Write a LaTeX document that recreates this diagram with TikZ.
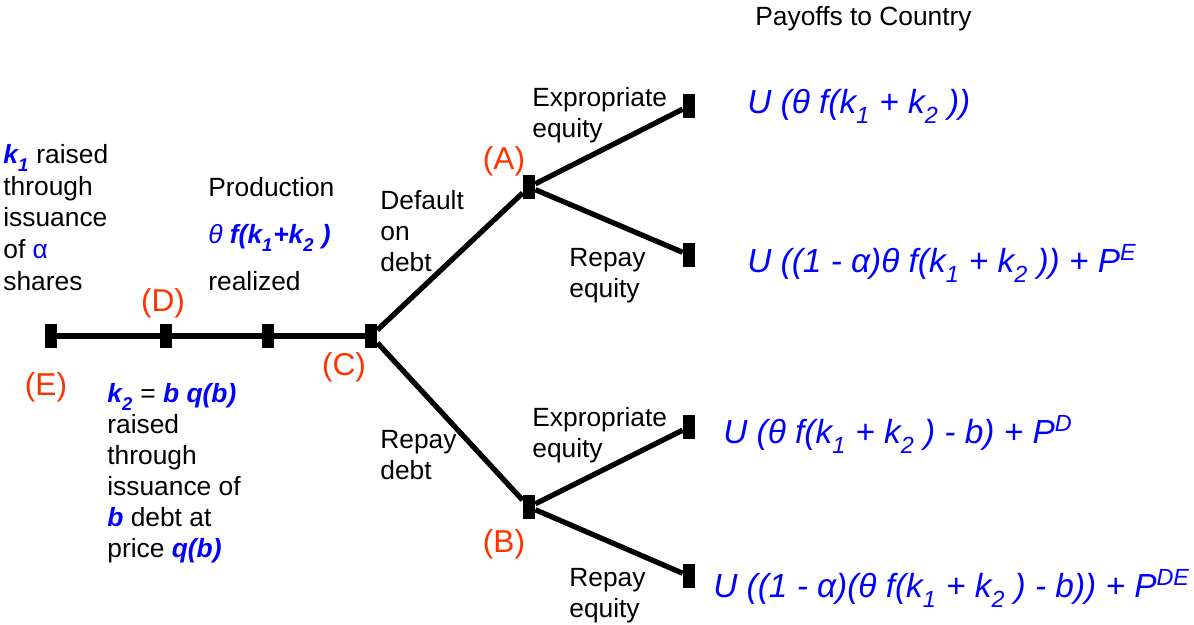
\documentclass[tikz,border=0pt]{standalone}
\usepackage{fontspec}
\setmainfont{Liberation Sans}
\definecolor{payblue}{RGB}{0,0,255}
\definecolor{stagered}{RGB}{255,51,0}
\tikzset{
  snode/.style={rectangle, fill=black, inner sep=0pt,
                minimum width=0.24cm, minimum height=0.47cm},
  sbranch/.style={draw=black, line width=3pt},
  sstage/.style={text=stagered, font=\fontsize{18}{21}\selectfont,
                 anchor=base, inner sep=0pt},
  % multi-line: base anchor sits on the last line
  stext/.style={font=\fontsize{15}{17.6}\selectfont, align=left,
                anchor=base west, inner sep=0pt},
  spay/.style={text=payblue, font=\fontsize{19}{22}\selectfont\itshape,
               anchor=base west, inner sep=0pt},
}
\newcommand{\bk}[1]{\textcolor{payblue}{\textbf{\textit{#1}}}}
\newcommand{\lo}[1]{\raisebox{-0.15em}{\textsubscript{#1}}}

\begin{document}
\begin{tikzpicture}[x=0.02cm,y=-0.02cm]
\useasboundingbox (0,0) rectangle (1194,625);
% decision points
\node[snode] (E) at (51,336) {};
\node[snode] (D) at (166,336) {};
\node[snode] (R) at (268,336) {};
\node[snode] (C) at (371,336) {};
\node[snode] (A) at (529,187) {};
\node[snode] (B) at (529,507) {};
\node[snode] (AE) at (689,106) {};
\node[snode] (AR) at (689,255) {};
\node[snode] (BE) at (689,427) {};
\node[snode] (BR) at (689,576) {};
\draw[sbranch] (E) -- (D) -- (R) -- (C);
\draw[sbranch] (C) -- (A);
\draw[sbranch] (C) -- (B);
\draw[sbranch] (A) -- (AE);
\draw[sbranch] (A) -- (AR);
\draw[sbranch] (B) -- (BE);
\draw[sbranch] (B) -- (BR);
% stage labels
\node[sstage] (labE) at (46,395) {(E)};
\node[sstage] (labD) at (163,311) {(D)};
\node[sstage] (labC) at (344,375) {(C)};
\node[sstage] (labA) at (504,170) {(A)};
\node[sstage] (labB) at (504,552) {(B)};
% timeline text
\node[stext, font=\fontsize{15}{18}\selectfont] (equityTxt) at (3,290)
  {\bk{k\lo{1}} raised\\through\\issuance\\of \textcolor{payblue}{α}\\shares};
\node[stext, font=\fontsize{15}{26.5}\selectfont] (prodTxt) at (208,290)
  {Production\\{\color{payblue}\textit{θ} \textbf{\textit{f(k\lo{1}+k\lo{2} )}}}\\realized};
\node[stext] (debtTxt) at (107,557)
  {\bk{k\lo{2}} = \bk{b q(b)}\\raised\\through\\issuance of\\\bk{b} debt at\\price \bk{q(b)}};
% branch text
\node[stext] (dfltTxt) at (380,271) {Default\\on\\debt};
\node[stext] (rpdTxt) at (380,479) {Repay\\debt};
\node[stext] (exATxt) at (532,137) {Expropriate\\equity};
\node[stext] (rpATxt) at (569,297) {Repay\\equity};
\node[stext] (exBTxt) at (532,457) {Expropriate\\equity};
\node[stext] (rpBTxt) at (569,617) {Repay\\equity};
% payoffs
\node[stext] (payHead) at (755,26) {Payoffs to Country};
\node[spay] (uAE) at (747,113)
  {U (θ f(k\lo{1} + k\lo{2} ))};
\node[spay] (uAR) at (747,272)
  {U ((1 - α)θ f(k\lo{1} + k\lo{2} )) + P\textsuperscript{E}};
\node[spay] (uBE) at (723,443)
  {U (θ f(k\lo{1} + k\lo{2} ) - b) + P\textsuperscript{D}};
\node[spay] (uBR) at (713,597)
  {U ((1 - α)(θ f(k\lo{1} + k\lo{2} ) - b)) + P\textsuperscript{DE}};
\end{tikzpicture}
\end{document}
